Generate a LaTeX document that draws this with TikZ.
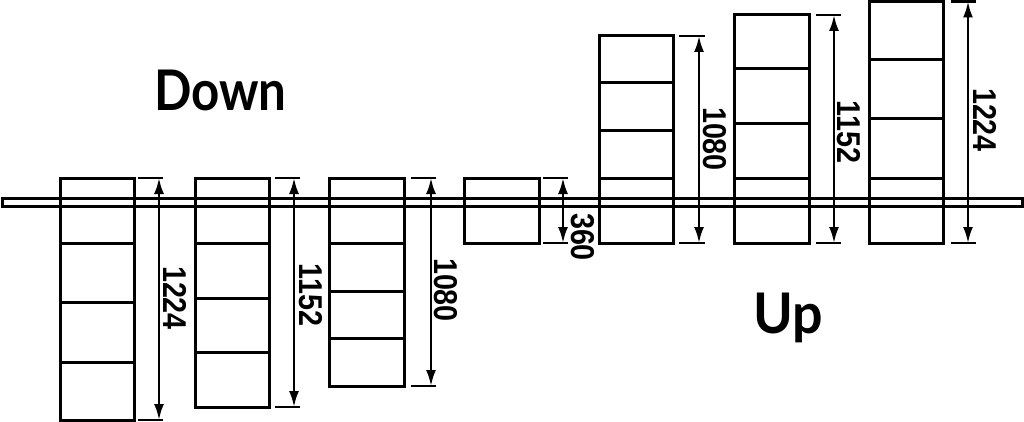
\documentclass[tikz,border=0pt]{standalone}
\usepackage{fontspec}
\usepackage{graphicx}
\setmainfont{Liberation Sans}
\newfontfamily\headfont{Lato}
\usetikzlibrary{arrows.meta}
\begin{document}
\begin{tikzpicture}[x=1pt,y=-1pt,
  part/.style={line width=3pt},
  tickline/.style={line width=2.4pt},
  dimline/.style={line width=2.4pt,{Latex[length=16pt,width=10pt]}-{Latex[length=16pt,width=10pt]}},
  dimtext/.style={font=\bfseries\fontsize{33}{33}\selectfont, rotate=-90, inner sep=0pt},
  title/.style={font=\headfont\bfseries\fontsize{56}{56}\selectfont, inner sep=0pt, anchor=base west}]
\useasboundingbox (0,0) rectangle (1024,422);
% rail
\draw[part] (2,198) rectangle (1022,206);
% cabinets
\foreach \xa/\xb/\yt/\yb/\divs in {
  60/134/178/420/{243,302,362},
  195/269/178/407/{243,298,352},
  329/404/178/386/{243,291,338},
  464/539/178/243/{},
  599/673/36/243/{83,131,178},
  734/809/15/243/{69,124,178},
  869/943/1.5/243/{60,119,178}}{
  \draw[part] (\xa,\yt) rectangle (\xb,\yb);
  \foreach \d in \divs {\draw[part] (\xa,\d) -- (\xb,\d);}
}
% dimensions
\foreach \i/\ta/\tb/\ax/\yt/\yb/\lx/\ly/\txt in {
  1/138/163/159/178/420/175/298/1224,
  2/275/300/294/178/407/311/295/1152,
  3/411/436/431/178/386/446/290/1080,
  4/543/568/563/178/243/583/237/360,
  5/679/705/699/36/243/715/139/1080,
  6/816/841/834/15/243/849/132/1152,
  7/951/976/968/1.5/243/985/120/1224}{
  \draw[tickline] (\ta,\yt) -- (\tb,\yt);
  \draw[tickline] (\ta,\yb) -- (\tb,\yb);
  \coordinate (top\i) at (\ax,\yt);
  \coordinate (bot\i) at (\ax,\yb);
  \draw[dimline] (top\i) -- (bot\i);
  \node[dimtext] (lab\i) at (\lx,\ly) {\scalebox{0.87}[1]{\txt}};
}
\node[title, xscale=0.88] (down) at (154,111) {Down};
\node[title, xscale=0.96] (up) at (753,333) {Up};
\end{tikzpicture}
\end{document}
